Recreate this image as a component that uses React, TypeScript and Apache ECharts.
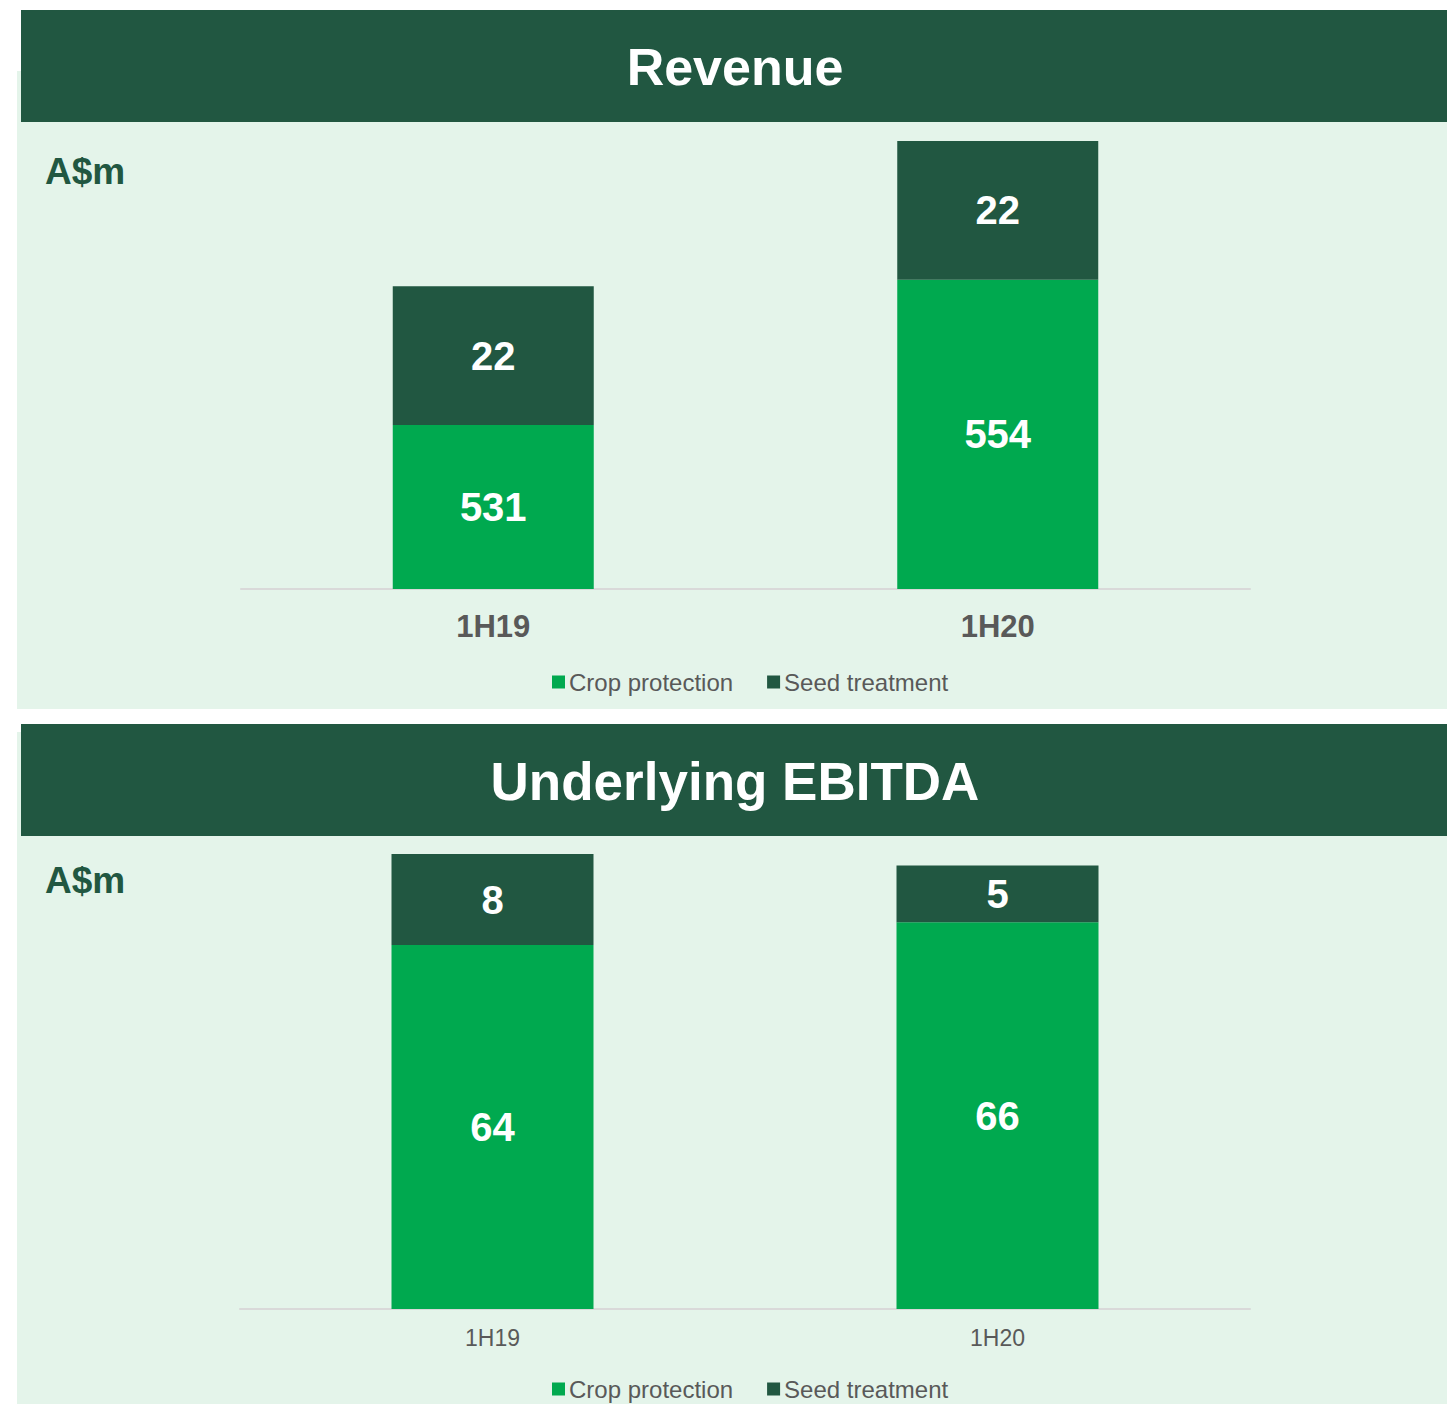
import React, { useEffect, useRef } from "react";
import * as echarts from "echarts";

const categories = ["1H19", "1H20"];
const seriesNames = ["Crop protection", "Seed treatment"];
const revenueCrop = [531, 554];
const revenueSeed = [22, 22];
const ebitdaCrop = [64, 66];
const ebitdaSeed = [8, 5];
const panelTitles = ["Revenue", "Underlying EBITDA"];
const unitLabel = "A$m";

const DARK = "#215741";
const BRIGHT = "#00A94F";
const LIGHT = "#E4F4EA";
const GREY = "#595959";
const FONT = "'Liberation Sans', Arial, sans-serif";

export default function App() {
  const ref = useRef<HTMLDivElement>(null);
  useEffect(() => {
    if (!ref.current) return;
    const chart = echarts.init(ref.current, undefined, { renderer: "svg" });
    const label = {
      show: true,
      position: "inside",
      color: "#ffffff",
      fontWeight: "bold",
      fontSize: 40,
      fontFamily: FONT,
    };
    const legendBase = {
      data: seriesNames,
      left: 552,
      padding: 0,
      itemWidth: 13, itemHeight: 13, itemGap: 34,
      icon: "rect",
      textStyle: { color: GREY, fontSize: 24, fontFamily: FONT, padding: [0, 0, 0, -1] },
    };
    const option: any = {
      animation: false,
      backgroundColor: "#ffffff",
      graphic: [
        { type: "rect", z: 0, shape: { x: 17, y: 71, width: 1430, height: 638 }, style: { fill: LIGHT } },
        { type: "rect", z: 0, shape: { x: 21, y: 10, width: 1426, height: 112 }, style: { fill: DARK } },
        { type: "rect", z: 0, shape: { x: 17, y: 732, width: 1430, height: 672 }, style: { fill: LIGHT } },
        { type: "rect", z: 0, shape: { x: 21, y: 724, width: 1426, height: 112 }, style: { fill: DARK } },
        {
          type: "text", z: 1, x: 735, y: 67,
          style: { text: panelTitles[0], fill: "#ffffff", font: `bold 52px ${FONT}`, textAlign: "center", textVerticalAlign: "middle" },
        },
        {
          type: "text", z: 1, x: 735, y: 781,
          style: { text: panelTitles[1], fill: "#ffffff", font: `bold 53px ${FONT}`, textAlign: "center", textVerticalAlign: "middle" },
        },
        {
          type: "text", z: 1, x: 45, y: 171,
          style: { text: unitLabel, fill: DARK, font: `bold 37px ${FONT}`, textAlign: "left", textVerticalAlign: "middle" },
        },
        {
          type: "text", z: 1, x: 45, y: 880,
          style: { text: unitLabel, fill: DARK, font: `bold 37px ${FONT}`, textAlign: "left", textVerticalAlign: "middle" },
        },
      ],
      legend: [
        { ...legendBase, top: 670 },
        { ...legendBase, top: 1377 },
      ],
      grid: [
        { left: 241, width: 1009, top: 141, height: 448 },
        { left: 240, width: 1010, top: 854, height: 455 },
      ],
      xAxis: [
        {
          gridIndex: 0, type: "category", data: categories,
          axisLine: { lineStyle: { color: "#D9D9D9", width: 2 } },
          axisTick: { show: false },
          axisLabel: { color: GREY, fontSize: 31, fontWeight: "bold", fontFamily: FONT, margin: 22 },
        },
        {
          gridIndex: 1, type: "category", data: categories,
          axisLine: { lineStyle: { color: "#D9D9D9", width: 2 } },
          axisTick: { show: false },
          axisLabel: { color: GREY, fontSize: 23, fontFamily: FONT, margin: 17 },
        },
      ],
      yAxis: [
        { gridIndex: 0, type: "value", min: 505, max: 576, show: false, splitLine: { show: false } },
        { gridIndex: 1, type: "value", min: 32, max: 72, show: false, splitLine: { show: false } },
      ],
      series: [
        {
          name: seriesNames[0], type: "bar", stack: "rev", xAxisIndex: 0, yAxisIndex: 0,
          data: revenueCrop, barWidth: 201, itemStyle: { color: BRIGHT }, label,
        },
        {
          name: seriesNames[1], type: "bar", stack: "rev", xAxisIndex: 0, yAxisIndex: 0,
          data: revenueSeed, barWidth: 201, itemStyle: { color: DARK }, label,
        },
        {
          name: seriesNames[0], type: "bar", stack: "ebitda", xAxisIndex: 1, yAxisIndex: 1,
          data: ebitdaCrop, barWidth: 202, itemStyle: { color: BRIGHT }, label,
        },
        {
          name: seriesNames[1], type: "bar", stack: "ebitda", xAxisIndex: 1, yAxisIndex: 1,
          data: ebitdaSeed, barWidth: 202, itemStyle: { color: DARK }, label,
        },
      ],
    };
    chart.setOption(option);
    return () => chart.dispose();
  }, []);
  return (
    <div
      ref={ref}
      style={{ position: "absolute", left: 0, top: 0, width: 1447, height: 1404 }}
    />
  );
}
